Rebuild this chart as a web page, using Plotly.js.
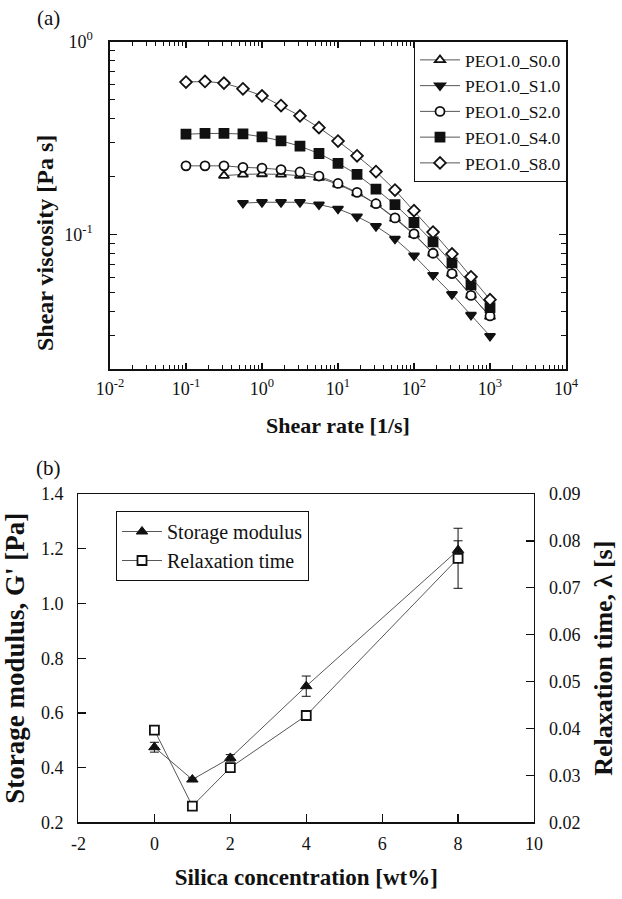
<!DOCTYPE html>
<html>
<head>
<meta charset="utf-8">
<script src="https://cdn.plot.ly/plotly-3.0.1.min.js"></script>
<style>html,body{margin:0;padding:0;background:#fff;}#chart{width:622px;height:899px;}</style>
</head>
<body>
<div id="chart"></div>
<script>
// ---- Panel (a): shear viscosity vs shear rate ----
const rateS0 = [0.316, 0.562, 1, 1.78, 3.16, 5.62, 10, 17.8, 31.6, 56.2, 100, 178, 316, 562, 1000];
const viscS0 = [0.202, 0.205, 0.206, 0.205, 0.202, 0.197, 0.182, 0.164, 0.144, 0.121, 0.100, 0.080, 0.0628, 0.0484, 0.0376];

const rateS1 = [0.562, 1, 1.78, 3.16, 5.62, 10, 17.8, 31.6, 56.2, 100, 178, 316, 562, 1000];
const viscS1 = [0.1456, 0.147, 0.147, 0.147, 0.143, 0.136, 0.124, 0.1105, 0.095, 0.0778, 0.0617, 0.0491, 0.0383, 0.0298];

const rateS2 = [0.1, 0.178, 0.316, 0.562, 1, 1.78, 3.16, 5.62, 10, 17.8, 31.6, 56.2, 100, 178, 316, 562, 1000];
const viscS2 = [0.227, 0.227, 0.227, 0.223, 0.221, 0.217, 0.211, 0.201, 0.184, 0.1655, 0.1445, 0.122, 0.101, 0.080, 0.0628, 0.0484, 0.0379];

const rateS4 = [0.1, 0.178, 0.316, 0.562, 1, 1.78, 3.16, 5.62, 10, 17.8, 31.6, 56.2, 100, 178, 316, 562, 1000];
const viscS4 = [0.331, 0.334, 0.334, 0.332, 0.321, 0.306, 0.287, 0.263, 0.234, 0.205, 0.172, 0.143, 0.1155, 0.0916, 0.0713, 0.0549, 0.0418];

const rateS8 = [0.1, 0.178, 0.316, 0.562, 1, 1.78, 3.16, 5.62, 10, 17.8, 31.6, 56.2, 100, 178, 316, 562, 1000];
const viscS8 = [0.617, 0.621, 0.609, 0.569, 0.523, 0.466, 0.412, 0.358, 0.305, 0.256, 0.212, 0.170, 0.133, 0.103, 0.0794, 0.0604, 0.046];

const seriesNames = ['PEO1.0_S0.0', 'PEO1.0_S1.0', 'PEO1.0_S2.0', 'PEO1.0_S4.0', 'PEO1.0_S8.0'];

const xTickVals = [0.01, 0.1, 1, 10, 100, 1000, 10000];
const xTickText = ['10<sup>-2</sup>', '10<sup>-1</sup>', '10<sup>0</sup>', '10<sup>1</sup>', '10<sup>2</sup>', '10<sup>3</sup>', '10<sup>4</sup>'];
const yTickVals = [0.1, 1];
const yTickText = ['10<sup>-1</sup>', '10<sup>0</sup>'];

// ---- Panel (b): storage modulus & relaxation time vs silica ----
const silica = [0, 1, 2, 4, 8];
const storageModulus = [0.475, 0.357, 0.436, 0.698, 1.195];
const storageErr = [0.018, 0.006, 0.012, 0.037, 0.034];
const relaxationTime = [0.0397, 0.0235, 0.0317, 0.0428, 0.0763];
const relaxationErr = [null, null, null, null, 0.0064];
const silicaTickVals = [-2, 0, 2, 4, 6, 8, 10];
const silicaTickText = ['-2', '0', '2', '4', '6', '8', '10'];

// minor tick positions for log axes (2..9 in each decade)
function minorLog(lo, hi) {
  const out = [];
  for (let e = lo; e < hi; e++) {
    for (let m = 2; m <= 9; m++) out.push(m * Math.pow(10, e));
  }
  return out;
}

const FONT = '"Liberation Serif", "Times New Roman", serif';
const INK = '#111';
const LINEC = '#444';

function viscTrace(x, y, name, symbol, filled) {
  return {
    x: x, y: y, name: name, type: 'scatter', mode: 'lines+markers',
    xaxis: 'x', yaxis: 'y', legend: 'legend',
    line: {color: LINEC, width: 0.9},
    marker: {symbol: symbol, size: 9,
             color: filled ? INK : 'white',
             line: {color: INK, width: 1.8}}
  };
}

const traces = [
  viscTrace(rateS0, viscS0, seriesNames[0], 'triangle-up', false),
  viscTrace(rateS1, viscS1, seriesNames[1], 'triangle-down', true),
  viscTrace(rateS2, viscS2, seriesNames[2], 'circle', false),
  viscTrace(rateS4, viscS4, seriesNames[3], 'square', true),
  viscTrace(rateS8, viscS8, seriesNames[4], 'diamond', false),
  {
    x: silica, y: relaxationTime, name: 'Relaxation time', type: 'scatter', mode: 'lines+markers',
    xaxis: 'x2', yaxis: 'y3', legend: 'legend2',
    line: {color: LINEC, width: 0.9},
    marker: {symbol: 'square', size: 9, color: 'white', line: {color: INK, width: 1.8}},
    error_y: {type: 'data', array: relaxationErr, visible: true, color: INK, thickness: 1, width: 4.5}
  },
  {
    x: silica, y: storageModulus, name: 'Storage modulus', type: 'scatter', mode: 'lines+markers',
    xaxis: 'x2', yaxis: 'y2', legend: 'legend2',
    line: {color: LINEC, width: 0.9},
    marker: {symbol: 'triangle-up', size: 10, color: INK, line: {color: INK, width: 1}},
    error_y: {type: 'data', array: storageErr, visible: true, color: INK, thickness: 1, width: 4.5}
  }
];

const axisCommon = {
  showline: true, linecolor: INK, linewidth: 1.5, showgrid: false, zeroline: false,
  ticks: 'inside', tickcolor: INK, tickwidth: 1.2,
  tickfont: {family: FONT, size: 18, color: INK}
};

const layout = {
  width: 622, height: 899,
  margin: {l: 0, r: 0, t: 0, b: 0},
  paper_bgcolor: 'white', plot_bgcolor: 'white',
  font: {family: FONT, color: INK},
  xaxis: Object.assign({}, axisCommon, {
    type: 'log', domain: [0.1768, 0.9100], range: [-2, 4], anchor: 'y',
    tickmode: 'array', tickvals: xTickVals, ticktext: xTickText, ticklen: 6,
    mirror: 'ticks', ticklabelstandoff: 2,
    minor: {tickmode: 'array', tickvals: minorLog(-2, 4), ticks: 'inside', ticklen: 4, tickwidth: 1, tickcolor: INK},
    title: {text: '<b>Shear rate [1/s]</b>', font: {family: FONT, size: 22, color: INK}, standoff: 20}
  }),
  yaxis: Object.assign({}, axisCommon, {
    type: 'log', domain: [0.589, 0.9538], range: [Math.log10(0.02), 0], anchor: 'x',
    tickmode: 'array', tickvals: yTickVals, ticktext: yTickText, ticklen: 7,
    mirror: 'ticks', ticklabelstandoff: 12,
    minor: {tickmode: 'array', tickvals: minorLog(-2, 0), ticks: 'inside', ticklen: 5, tickwidth: 1, tickcolor: INK}
  }),
  xaxis2: Object.assign({}, axisCommon, {
    domain: [0.1262, 0.8585], range: [-2, 10], anchor: 'y2',
    tickmode: 'array', tickvals: silicaTickVals, ticktext: silicaTickText, ticklen: 8, mirror: true, ticklabelstandoff: 4,
    title: {text: '<b>Silica concentration [wt%]</b>', font: {family: FONT, size: 23, color: INK}, standoff: 16}
  }),
  yaxis2: Object.assign({}, axisCommon, {
    domain: [0.0851, 0.4505], range: [0.2, 1.4], anchor: 'x2', side: 'left',
    tickmode: 'linear', tick0: 0.2, dtick: 0.2, tickformat: '.1f', ticklen: 8, ticklabelstandoff: 10,
    title: {text: "<b>Storage modulus, G' [Pa]</b>", font: {family: FONT, size: 27, color: INK}, standoff: 10}
  }),
  yaxis3: Object.assign({}, axisCommon, {
    domain: [0.0851, 0.4505], range: [0.02, 0.09], anchor: 'x2', overlaying: 'y2', side: 'right',
    tickmode: 'linear', tick0: 0.02, dtick: 0.01, tickformat: '.2f', ticklen: 8, ticklabelstandoff: 10,
    title: {text: '<b>Relaxation time, λ [s]</b>', font: {family: FONT, size: 26, color: INK}, standoff: 14}
  }),
  legend: {
    x: 567 / 622, xanchor: 'right', y: 1 - 41 / 899, yanchor: 'top',
    bgcolor: 'white', bordercolor: INK, borderwidth: 1,
    font: {family: FONT, size: 17.5, color: INK}, itemwidth: 40, tracegroupgap: 0,
    traceorder: 'normal'
  },
  legend2: {
    x: 116 / 622, xanchor: 'left', y: 1 - 511 / 899, yanchor: 'top',
    bgcolor: 'white', bordercolor: INK, borderwidth: 1,
    font: {family: FONT, size: 20, color: INK}, itemwidth: 40,
    traceorder: 'reversed'
  },
  annotations: [
    {text: '<b>Shear viscosity [Pa s]</b>', xref: 'paper', yref: 'paper', x: 45 / 622, y: 1 - 243 / 899,
     xanchor: 'center', yanchor: 'middle', textangle: -90, showarrow: false,
     font: {family: FONT, size: 24, color: INK}},
    {text: '(a)', xref: 'paper', yref: 'paper', x: 48 / 622, y: 1 - 18 / 899, xanchor: 'center', yanchor: 'middle',
     showarrow: false, font: {family: FONT, size: 21, color: INK}},
    {text: '(b)', xref: 'paper', yref: 'paper', x: 48 / 622, y: 1 - 468 / 899, xanchor: 'center', yanchor: 'middle',
     showarrow: false, font: {family: FONT, size: 21, color: INK}}
  ]
};

Plotly.newPlot('chart', traces, layout, {staticPlot: true, displayModeBar: false});
</script>
</body>
</html>
